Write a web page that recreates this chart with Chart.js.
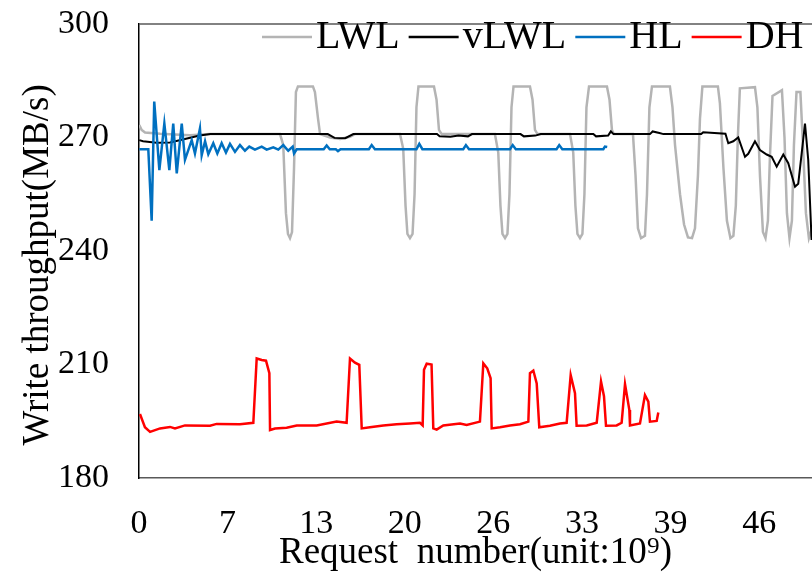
<!DOCTYPE html>
<html>
<head>
<meta charset="utf-8">
<script src="https://cdn.jsdelivr.net/npm/chart.js@4.4.0/dist/chart.umd.min.js"></script>
<style>
  html, body { margin: 0; padding: 0; background: #fff; overflow: hidden; }
</style>
</head>
<body>
<canvas id="chart" width="812" height="576"></canvas>
<script>
// x in units of 10^9 requests, y in MB/s
const xTickLabels = ['0', '7', '13', '20', '26', '33', '39', '46'];
const xTickStep = 46 / 7;
const yTicks = [180, 210, 240, 270, 300];

const lwl = [
  [0.02, 273.3], [0.20, 272.0], [0.45, 271.3], [1.56, 271.0], [3.78, 270.6], [5.27, 270.9],
  [10.46, 270.9], [10.70, 268], [10.90, 250], [11.05, 244.5], [11.20, 243.4], [11.35, 245],
  [11.50, 262], [11.64, 282], [11.79, 283.5], [12.90, 283.5], [13.05, 282], [13.28, 275],
  [13.43, 270.9], [14.17, 270.0], [14.91, 269.6], [15.65, 270.2], [16.02, 270.9],
  [19.36, 270.9], [19.60, 267], [19.77, 252], [19.91, 244.5], [20.10, 243.4], [20.29, 244.5],
  [20.44, 255], [20.58, 278], [20.73, 283.5], [21.88, 283.5], [22.07, 280], [22.25, 272],
  [22.45, 270.9], [26.40, 270.9], [26.65, 266], [26.81, 252], [26.96, 244.5], [27.15, 243.4],
  [27.33, 244.5], [27.48, 255], [27.63, 278], [27.78, 283.5], [29.00, 283.5], [29.19, 280],
  [29.37, 272], [29.56, 270.9], [31.97, 270.9], [32.21, 266], [32.37, 252], [32.52, 244.5],
  [32.71, 243.4], [32.89, 244.5], [33.04, 255], [33.19, 278], [33.38, 283.5], [34.71, 283.5],
  [34.90, 280], [35.08, 272], [35.23, 270.9], [36.64, 270.9], [36.83, 260], [37.01, 246],
  [37.24, 243.4], [37.53, 244], [37.68, 255], [37.86, 278], [38.05, 283.5], [39.38, 283.5],
  [39.57, 278], [39.76, 268], [40.13, 255], [40.43, 247], [40.72, 243.6], [41.02, 243.4],
  [41.24, 246], [41.46, 260], [41.61, 275], [41.79, 283.5], [42.94, 283.5], [43.09, 279],
  [43.35, 262], [43.61, 248], [43.87, 243.4], [44.09, 244], [44.27, 252], [44.42, 270],
  [44.57, 283], [45.69, 283.3], [45.87, 278], [46.06, 260], [46.28, 245], [46.47, 243.4],
  [46.65, 248], [46.80, 265], [46.99, 281], [47.69, 282.5], [47.88, 270], [48.06, 250],
  [48.25, 243.4], [48.43, 248], [48.58, 268], [48.77, 282], [49.06, 282], [49.25, 268],
  [49.47, 250], [49.69, 243.4], [49.92, 246]
];

const vlwl = [
  [0.02, 269.3], [0.30, 269.0], [1.30, 268.6], [2.30, 268.7], [3.40, 269.6], [4.50, 270.5],
  [5.30, 270.9], [14.0, 270.9], [14.5, 269.9], [15.3, 269.8], [15.9, 270.9], [22.10, 270.9],
  [22.30, 270.3], [23.10, 270.2], [23.70, 270.5], [24.40, 270.3], [24.70, 270.9], [28.30, 270.9],
  [28.55, 270.3], [29.40, 270.5], [29.80, 270.9], [33.70, 270.9], [33.90, 270.3], [34.80, 270.5],
  [35.00, 271.6], [35.20, 270.9], [37.90, 270.9], [38.10, 271.6], [38.60, 271.2], [38.90, 270.9],
  [41.70, 270.9], [41.85, 271.4], [43.50, 271.0], [43.71, 268.5], [44.08, 269.0], [44.45, 270.0],
  [44.95, 264.9], [45.19, 265.7], [45.69, 269.0], [46.06, 266.7], [46.56, 265.5], [46.93, 264.9],
  [47.30, 262.3], [47.79, 265.5], [48.16, 263.2], [48.66, 257.0], [48.90, 257.8], [49.15, 265.7],
  [49.40, 273.7], [49.64, 264.1], [49.89, 242.9]
];

const hl = [
  [0.02, 266.9], [0.69, 266.9], [0.94, 248], [1.13, 279.5], [1.51, 261.4], [1.88, 273.7],
  [2.25, 261.4], [2.54, 273.7], [2.80, 260.5], [3.17, 273.7], [3.41, 264.1], [3.91, 269.3],
  [4.15, 265.8], [4.52, 272.4], [4.65, 265.3], [4.90, 269.0], [5.14, 265.6], [5.51, 268.5],
  [5.81, 265.8], [6.13, 268.5], [6.45, 266.0], [6.75, 268.3], [7.12, 266.2], [7.49, 268.0],
  [7.86, 266.5], [8.18, 267.6], [8.60, 266.8], [9.10, 267.6], [9.47, 266.8], [9.96, 267.4],
  [10.33, 266.8], [10.70, 268.0], [11.07, 266.5], [11.40, 267.6], [11.50, 265.8], [11.70, 266.9],
  [13.70, 266.9], [13.92, 267.9], [14.15, 266.9], [14.60, 266.9], [14.76, 266.4], [14.95, 266.9],
  [17.05, 266.9], [17.26, 268.0], [17.50, 266.9], [20.58, 266.9], [20.79, 268.3], [21.02, 266.9],
  [24.05, 266.9], [24.25, 268.0], [24.48, 266.9], [27.52, 266.9], [27.72, 268.0], [27.95, 266.9],
  [30.97, 266.9], [31.17, 268.0], [31.40, 266.9], [34.44, 266.9], [34.56, 267.6], [34.73, 267.5]
];

const dh = [
  [0.07, 196.9], [0.44, 193.4], [0.82, 192.2], [1.56, 193.1], [2.30, 193.5], [2.67, 193.1],
  [3.41, 193.9], [5.27, 193.8], [5.76, 194.3], [7.49, 194.2], [8.48, 194.6], [8.73, 211.6],
  [9.10, 211.2], [9.42, 211.0], [9.67, 207.7], [9.72, 192.7], [10.09, 193.1], [10.95, 193.3],
  [11.70, 193.9], [13.18, 193.9], [14.66, 194.9], [15.40, 194.6], [15.65, 211.6], [16.02, 210.5],
  [16.34, 209.9], [16.52, 193.1], [17.13, 193.4], [18.12, 193.9], [19.11, 194.2], [20.10, 194.4],
  [20.84, 194.6], [21.04, 193.9], [21.14, 208.6], [21.34, 210.2], [21.70, 210.0], [21.83, 193.1],
  [22.08, 192.8], [22.57, 193.9], [23.81, 194.4], [24.30, 194.0], [25.29, 194.9], [25.54, 210.3],
  [25.83, 209.0], [26.08, 206.4], [26.16, 193.1], [26.78, 193.4], [27.52, 193.9], [28.26, 194.2],
  [28.88, 194.9], [29.00, 207.7], [29.25, 208.4], [29.50, 205.0], [29.69, 193.4], [30.48, 193.8],
  [31.23, 194.4], [31.72, 194.6], [32.02, 207.2], [32.34, 202.4], [32.46, 193.8], [33.21, 193.9],
  [33.95, 194.6], [34.27, 205.5], [34.49, 201.6], [34.64, 193.8], [35.43, 193.9], [35.80, 194.6],
  [36.05, 204.8], [36.37, 198.0], [36.42, 193.9], [37.16, 194.4], [37.53, 201.9], [37.78, 200.2],
  [37.90, 194.9], [38.40, 195.1], [38.52, 197.3]
];

const FONT = '"Liberation Serif", "Times New Roman", serif';

function toPoints(arr) {
  return arr.map(p => ({ x: p[0], y: p[1] }));
}

function series(label, arr, color, width, order) {
  return {
    label: label,
    data: toPoints(arr),
    borderColor: color,
    backgroundColor: color,
    borderWidth: width,
    pointRadius: 0,
    tension: 0,
    order: order
  };
}

// top frame line + legend drawn inside the plot, Excel style
const framePlugin = {
  id: 'framePlugin',
  afterDraw(chart) {
    const { ctx, chartArea: a } = chart;
    ctx.save();
    ctx.strokeStyle = '#595959';
    ctx.lineWidth = 1.5;
    ctx.beginPath();
    ctx.moveTo(a.left, a.top);
    ctx.lineTo(a.right, a.top);
    ctx.stroke();

    ctx.font = '40px ' + FONT;
    ctx.textBaseline = 'middle';
    let x = 262;
    const y = 37;
    chart.data.datasets.forEach(ds => {
      ctx.strokeStyle = ds.borderColor;
      ctx.lineWidth = 2.5;
      ctx.beginPath();
      ctx.moveTo(x, y);
      ctx.lineTo(x + 50, y);
      ctx.stroke();
      x += 54;
      ctx.fillStyle = '#000';
      ctx.fillText(ds.label, x, y);
      x += ctx.measureText(ds.label).width + 9;
    });
    ctx.restore();
  }
};

new Chart(document.getElementById('chart'), {
  type: 'line',
  data: {
    datasets: [
      series('LWL', lwl, '#b4b4b4', 2.5, 4),
      series('vLWL', vlwl, '#000000', 2, 3),
      series('HL', hl, '#0070c0', 2.5, 2),
      series('DH', dh, '#ff0000', 2.5, 1)
    ]
  },
  options: {
    responsive: false,
    animation: false,
    layout: { padding: 0 },
    plugins: { legend: { display: false }, tooltip: { enabled: false } },
    scales: {
      x: {
        type: 'linear',
        min: 0,
        max: 49.92,
        afterBuildTicks: s => { s.ticks = xTickLabels.map((t, i) => ({ value: i * xTickStep })); },
        afterFit: s => { s.height = 98; },
        grid: { display: false, drawTicks: false },
        border: { display: true, color: '#595959', width: 1.5 },
        ticks: {
          autoSkip: false,
          maxRotation: 0,
          padding: 26,
          color: '#000',
          font: { family: FONT, size: 34 },
          callback: (v, i) => xTickLabels[i]
        },
        title: {
          display: true,
          text: 'Request  number(unit:10\u2079)',
          color: '#000',
          font: { family: FONT, size: 37 },
          padding: { top: 0, bottom: 1 }
        }
      },
      y: {
        min: 180,
        max: 300,
        afterBuildTicks: s => { s.ticks = yTicks.map(v => ({ value: v })); },
        afterFit: s => { s.width = 139; s.paddingTop = 24; },
        grid: { display: false, drawTicks: false },
        border: { display: true, color: '#000', width: 1.5 },
        ticks: { padding: 30, color: '#000', font: { family: FONT, size: 34 } },
        title: {
          display: true,
          text: 'Write throughput(MB/s)   ',
          color: '#000',
          font: { family: FONT, size: 37 },
          padding: { top: 16, bottom: 0 }
        }
      }
    }
  },
  plugins: [framePlugin]
});
</script>
</body>
</html>
